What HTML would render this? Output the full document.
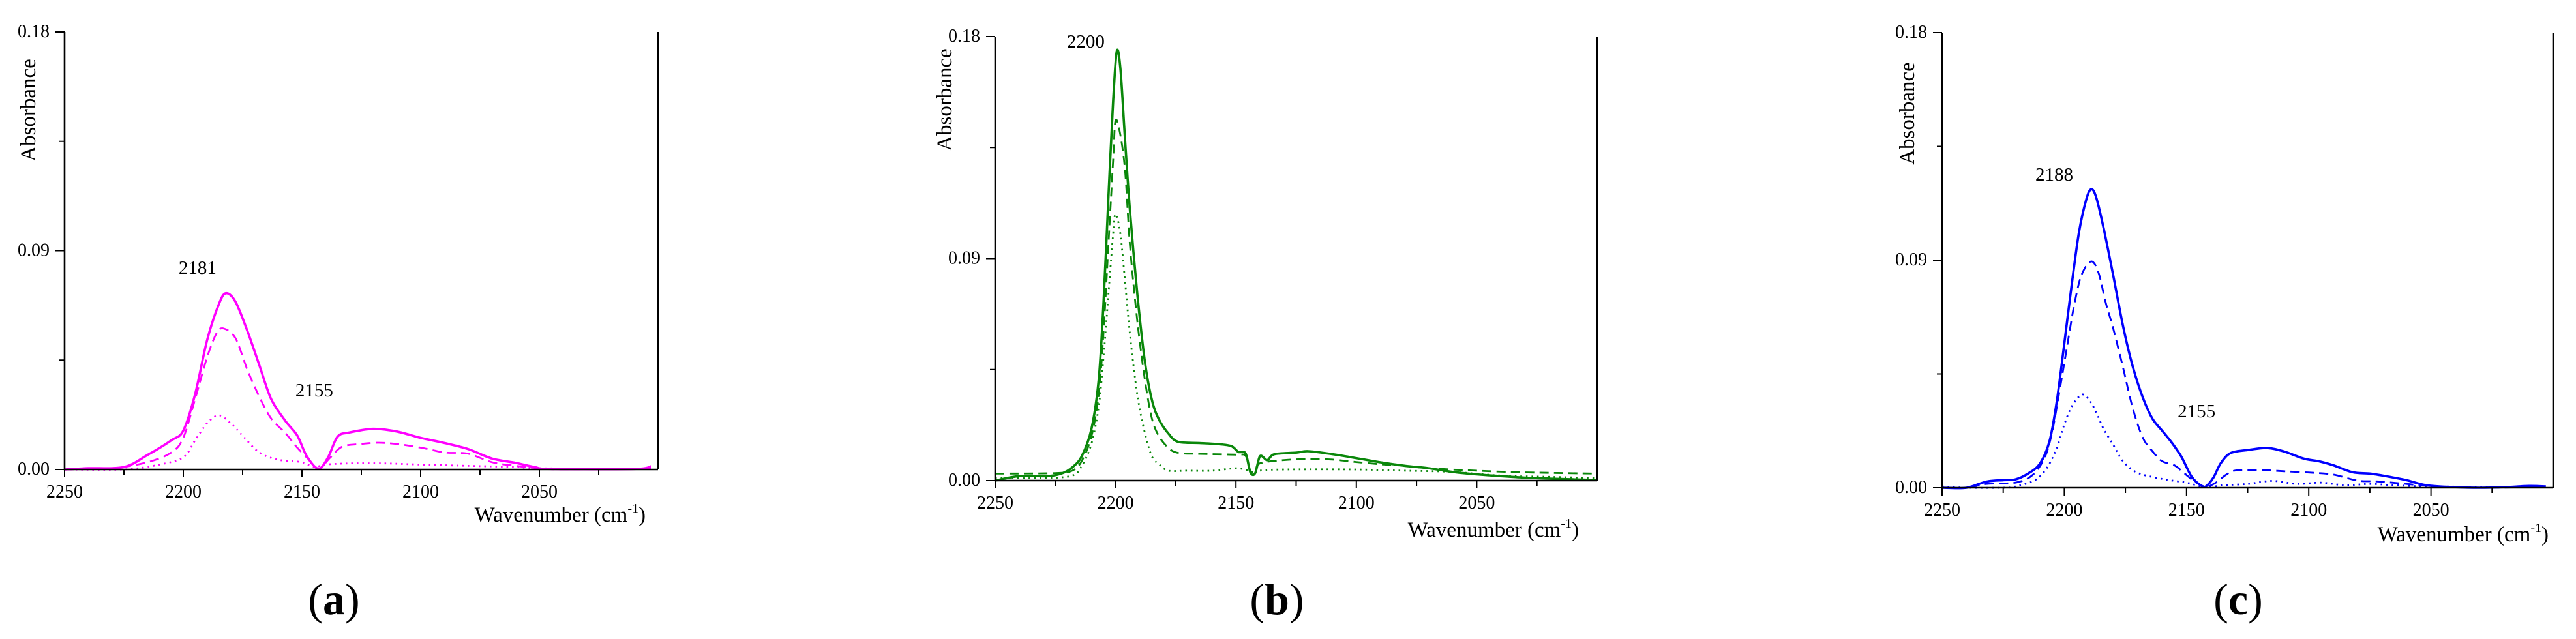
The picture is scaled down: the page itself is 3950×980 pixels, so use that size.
<!DOCTYPE html>
<html><head><meta charset="utf-8"><style>
html,body{margin:0;padding:0;background:#fff;}
svg{display:block;font-family:"Liberation Serif",serif;}
</style></head><body>
<svg id="chart" width="3950" height="980" viewBox="0 0 3950 980" xmlns="http://www.w3.org/2000/svg"></svg>
<script>
// ---- shared axis data ----
const xTickLabels = [2250, 2200, 2150, 2100, 2050];
const xMinorTicks = [2225, 2175, 2125, 2075, 2025];
const yTickLabels = ["0.00", "0.09", "0.18"];
const yTickValues = [0, 0.09, 0.18];
const yMinorTicks = [0.045, 0.135];

// ---- panel (a) magenta ----
const aSolidX = [2250,2240,2225,2215,2205,2200,2195,2190,2185,2182,2178,2173,2168,2163,2157,2152,2148,2143,2139,2135,2130,2120,2110,2100,2090,2080,2070,2060,2052,2045,2010,2003];
const aSolidY = [0,0.0005,0.001,0.006,0.012,0.016,0.031,0.053,0.068,0.0725,0.069,0.057,0.043,0.029,0.02,0.014,0.0055,0.0003,0.005,0.0135,0.0152,0.0167,0.0156,0.013,0.0109,0.0084,0.0045,0.0027,0.001,0.0002,0.0002,0.0013];
const aDashX = [2250,2230,2215,2205,2200,2195,2190,2186,2183,2178,2173,2168,2163,2157,2152,2147,2143,2138,2133,2125,2118,2110,2100,2090,2080,2070,2060,2050,2040,2003];
const aDashY = [0,0.0005,0.003,0.007,0.013,0.029,0.046,0.056,0.058,0.054,0.041,0.03,0.021,0.015,0.009,0.004,0.0003,0.005,0.0094,0.0105,0.011,0.0105,0.009,0.007,0.0065,0.003,0.0015,0.0005,0,0.0005];
const aDotX = [2250,2225,2210,2200,2195,2190,2185,2180,2175,2168,2160,2150,2145,2140,2130,2115,2100,2080,2060,2050,2003];
const aDotY = [0,0,0.002,0.005,0.012,0.019,0.0223,0.019,0.0139,0.007,0.004,0.003,0.001,0.002,0.0025,0.0025,0.002,0.0015,0.001,0.0005,0.0002];

// ---- panel (b) green ----
const bSolidX = [2250,2240,2228,2222,2218,2214,2210,2207,2205,2203,2201,2199.5,2198,2196,2194,2191,2188,2185,2182,2178,2174,2165,2158,2152,2149,2146,2144,2142,2140,2137,2134,2125,2120,2110,2100,2090,2080,2070,2060,2050,2040,2030,2020,2010,2000];
const bSolidY = [0,0.0018,0.0018,0.003,0.0053,0.0099,0.021,0.041,0.072,0.114,0.154,0.174,0.167,0.137,0.109,0.076,0.0495,0.033,0.0248,0.019,0.0157,0.0152,0.0148,0.014,0.0116,0.011,0.0033,0.003,0.0099,0.0083,0.0107,0.0113,0.0119,0.0107,0.0091,0.0074,0.006,0.005,0.0035,0.0025,0.0018,0.0012,0.0008,0.0005,0.0002];
const bDashX = [2250,2225,2218,2214,2210,2207,2205,2203,2201,2200,2198,2196,2194,2191,2188,2185,2182,2178,2174,2165,2150,2146,2144,2142,2140,2130,2120,2110,2100,2090,2080,2070,2050,2030,2000];
const bDashY = [0.0028,0.003,0.004,0.008,0.018,0.035,0.06,0.095,0.13,0.146,0.14,0.125,0.095,0.065,0.042,0.0255,0.018,0.0132,0.0112,0.0108,0.0105,0.01,0.004,0.004,0.007,0.0083,0.0087,0.0085,0.0075,0.0066,0.006,0.005,0.004,0.0033,0.0028];
const bDotX = [2250,2230,2218,2214,2210,2207,2205,2203,2201,2200,2198,2196,2194,2191,2188,2185,2182,2178,2170,2160,2150,2145,2143,2140,2130,2100,2080,2060,2040,2020,2000];
const bDotY = [0.001,0.001,0.002,0.006,0.015,0.03,0.05,0.075,0.1,0.108,0.1,0.08,0.059,0.035,0.02,0.01,0.0066,0.004,0.004,0.004,0.005,0.004,0.0025,0.004,0.0045,0.0045,0.004,0.0035,0.002,0.0015,0.001];

// ---- panel (c) blue ----
const cSolidX = [2250,2240,2232,2225,2220,2215,2210,2206,2203,2200,2197,2194,2191,2189,2187,2184,2180,2176,2172,2168,2164,2160,2156,2152,2148,2144,2142,2139,2136,2132,2125,2117,2110,2102,2096,2090,2082,2075,2068,2060,2052,2040,2030,2020,2010,2003];
const cSolidY = [0,0,0.0024,0.003,0.0033,0.0055,0.0095,0.0186,0.0347,0.057,0.08,0.101,0.114,0.118,0.115,0.103,0.084,0.064,0.048,0.036,0.0274,0.0226,0.0178,0.0121,0.0045,0.0008,0.0006,0.004,0.0097,0.0137,0.0149,0.0157,0.0143,0.0115,0.0105,0.0089,0.0061,0.0056,0.0045,0.003,0.001,0.0002,0,0.0002,0.0007,0.0005];
const cDashX = [2250,2240,2232,2220,2213,2208,2205,2202,2199,2196,2193,2189,2186,2183,2180,2176,2172,2168,2164,2160,2155,2150,2146,2142,2138,2134,2130,2120,2110,2100,2090,2080,2072,2060,2050,2030,2003];
const cDashY = [0,0,0.0015,0.002,0.005,0.012,0.022,0.038,0.055,0.072,0.084,0.0895,0.085,0.073,0.063,0.0476,0.0315,0.02,0.0145,0.0105,0.0089,0.005,0.002,0.0004,0.002,0.005,0.0068,0.007,0.0065,0.006,0.0052,0.0028,0.0025,0.0015,0.0007,0,0.0003];
const cDotX = [2250,2240,2225,2220,2212,2207,2203,2200,2197,2193,2190,2187,2184,2180,2176,2170,2160,2150,2144,2140,2135,2125,2115,2105,2095,2085,2075,2065,2050,2003];
const cDotY = [0.0005,0,0,0.0005,0.003,0.008,0.016,0.025,0.032,0.0368,0.035,0.03,0.0234,0.017,0.0105,0.0059,0.0035,0.002,0.0005,0.0003,0.001,0.0015,0.0027,0.0015,0.002,0.001,0.0015,0.001,0.0005,0.0003];

const panels = [
  {id:'a', color:'#ff00ff', left:99, right:1009, top:49, bottom:720,
   series:[[aSolidX,aSolidY,'solid'],[aDashX,aDashY,'dash'],[aDotX,aDotY,'dot']],
   notes:[['2181',2194,0.0805],['2155',2144.8,0.030]], titleX:43, titleY:169, wnX:990, wnY:800, labelX:512},
  {id:'b', color:'#0a870a', left:1526, right:2449, top:56, bottom:737,
   series:[[bSolidX,bSolidY,'solid'],[bDashX,bDashY,'dash'],[bDotX,bDotY,'dot']],
   notes:[['2200',2212.4,0.1755]], titleX:1448, titleY:153, wnX:2421, wnY:823, labelX:1958},
  {id:'c', color:'#0000ff', left:2978, right:3915, top:50, bottom:748,
   series:[[cSolidX,cSolidY,'solid'],[cDashX,cDashY,'dash'],[cDotX,cDotY,'dot']],
   notes:[['2188',2204.1,0.1215],['2155',2145.9,0.0279]], titleX:2924, titleY:174, wnX:3908, wnY:830, labelX:3432}
];

const NS = 'http://www.w3.org/2000/svg';
const svg = document.getElementById('chart');
function mk(tag, attrs, parent){
  const e = document.createElementNS(NS, tag);
  for (const k in attrs) e.setAttribute(k, attrs[k]);
  (parent||svg).appendChild(e);
  return e;
}
function smoothPath(pts){
  let d = 'M'+pts[0][0].toFixed(1)+','+pts[0][1].toFixed(1);
  for (let i=0;i<pts.length-1;i++){
    const p0=pts[Math.max(0,i-1)], p1=pts[i], p2=pts[i+1], p3=pts[Math.min(pts.length-1,i+2)];
    const t=0.16;
    const c1=[p1[0]+(p2[0]-p0[0])*t, p1[1]+(p2[1]-p0[1])*t];
    const c2=[p2[0]-(p3[0]-p1[0])*t, p2[1]-(p3[1]-p1[1])*t];
    d+=' C'+c1[0].toFixed(1)+','+c1[1].toFixed(1)+' '+c2[0].toFixed(1)+','+c2[1].toFixed(1)+' '+p2[0].toFixed(1)+','+p2[1].toFixed(1);
  }
  return d;
}

panels.forEach(p=>{
  const g = mk('g', {});
  
  
  const xS = v => p.left + (2250 - v)/250*(p.right - p.left);
  const yS = v => p.bottom - v/0.18*(p.bottom - p.top);

  p.series.forEach(s=>{
    const pts = s[0].map((x,i)=>[xS(x), yS(s[1][i])]);
    const path = mk('path', {d:smoothPath(pts), fill:'none', stroke:p.color, 'stroke-linejoin':'round'}, g);
    if (s[2]==='solid'){ path.setAttribute('stroke-width','3.6'); }
    else if (s[2]==='dash'){ path.setAttribute('stroke-width','2.8'); path.setAttribute('stroke-dasharray','14 8'); }
    else { path.setAttribute('stroke-width','2.8'); path.setAttribute('stroke-dasharray','2.5 6'); }
    
    
  });

  const ax = mk('path', {d:'M'+p.left+','+p.top+' V'+p.bottom+' H'+p.right+' M'+p.right+','+p.top+' V'+p.bottom, fill:'none', stroke:'#000', 'stroke-width':'2.6'}, g);
  
  

  xTickLabels.forEach(v=>{
    const x = xS(v);
    const t = mk('line', {x1:x, y1:p.bottom, x2:x, y2:p.bottom+12, stroke:'#000', 'stroke-width':'2'}, g);
    
    
    const lb = mk('text', {x:x, y:p.bottom+43, 'font-size':'28', 'text-anchor':'middle', fill:'#000'}, g);
    lb.textContent = v;
    
    
  });
  xMinorTicks.forEach(v=>{
    const x = xS(v);
    const t = mk('line', {x1:x, y1:p.bottom, x2:x, y2:p.bottom+8, stroke:'#000', 'stroke-width':'2'}, g);
    
    
  });
  yTickValues.forEach((v,i)=>{
    const y = yS(v);
    const t = mk('line', {x1:p.left-14, y1:y, x2:p.left, y2:y, stroke:'#000', 'stroke-width':'2'}, g);
    
    
    const lb = mk('text', {x:p.left-23, y:y+8, 'font-size':'28', 'text-anchor':'end', fill:'#000'}, g);
    lb.textContent = yTickLabels[i];
    
    
  });
  yMinorTicks.forEach(v=>{
    const y = yS(v);
    const t = mk('line', {x1:p.left-8, y1:y, x2:p.left, y2:y, stroke:'#000', 'stroke-width':'2'}, g);
    
    
  });

  p.notes.forEach(n=>{
    const t = mk('text', {x:xS(n[1]), y:yS(n[2]), 'font-size':'29', 'text-anchor':'middle', fill:'#000'}, g);
    t.textContent = n[0];
    
    
  });

  const yt = mk('text', {x:0, y:0, 'font-size':'33', 'text-anchor':'middle', fill:'#000', transform:'translate('+(p.titleX+11)+','+p.titleY+') rotate(-90)'}, g);
  yt.textContent = 'Absorbance';
  
  

  const xt = mk('text', {x:p.wnX, y:p.wnY, 'font-size':'33', 'text-anchor':'end', fill:'#000'}, g);
  xt.innerHTML = 'Wavenumber (cm<tspan dy="-14" font-size="20">-1</tspan><tspan dy="14">)</tspan>';
  
  

  const pl = mk('text', {x:p.labelX, y:942, 'font-size':'68', 'text-anchor':'middle', fill:'#000'}, g);
  pl.innerHTML = '(<tspan font-weight="bold">'+p.id+'</tspan>)';
  
  
});
</script>
</body></html>
